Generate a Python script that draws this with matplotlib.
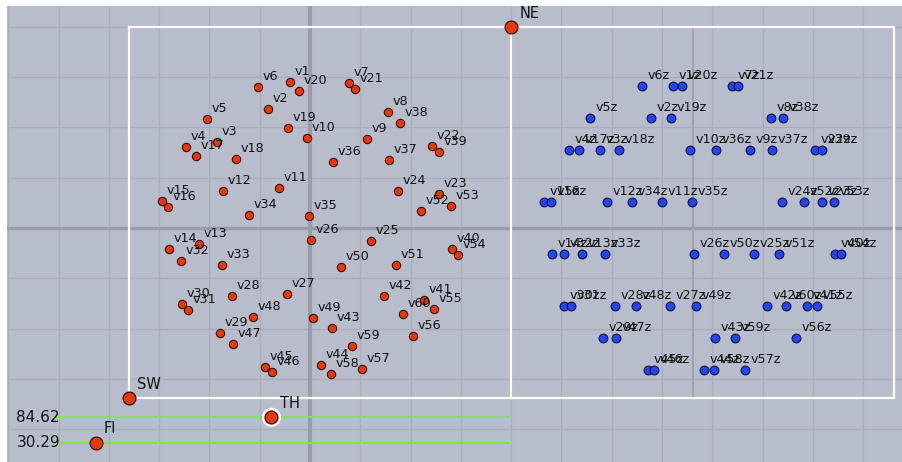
import numpy as np
import matplotlib
matplotlib.use("Agg")
import matplotlib.pyplot as plt

# ---------------- data (screen-like coordinates, y grows downward) ----------------
red_names = [f"v{i}" for i in range(1, 61)]
red_x = [290, 268, 217, 186, 207, 258, 349, 388, 367, 307,
         279, 223, 199, 169, 162, 168, 196, 236, 288, 299,
         355, 432, 439, 398, 371, 311, 287, 232, 220, 182,
         188, 181, 222, 249, 309, 333, 389, 400, 439, 452,
         424, 384, 332, 321, 265, 272, 233, 253, 313, 341,
         396, 421, 451, 458, 434, 413, 362, 331, 352, 403]
red_y = [82, 109, 142, 147, 119, 87, 83, 112, 139, 138,
         188, 191, 244, 249, 201, 207, 156, 159, 128, 91,
         89, 146, 194, 191, 241, 240, 294, 296, 333, 304,
         310, 261, 265, 215, 216, 162, 160, 123, 152, 249,
         300, 296, 328, 365, 367, 372, 344, 317, 318, 267,
         265, 211, 206, 255, 309, 336, 369, 374, 346, 314]

blue_names = [f"v{i}z" for i in range(1, 61)]
blue_x = [673, 651, 600, 569, 590, 642, 732, 771, 750, 690,
          662, 607, 582, 552, 544, 551, 579, 619, 671, 682,
          738, 815, 822, 782, 754, 694, 670, 615, 603, 564,
          571, 564, 605, 632, 692, 716, 772, 783, 822, 835,
          807, 767, 715, 704, 648, 654, 616, 636, 696, 724,
          779, 804, 834, 841, 817, 796, 745, 714, 735, 786]
blue_y = [86, 118, 150, 150, 118, 86, 86, 118, 150, 150,
          202, 202, 254, 254, 202, 202, 150, 150, 118, 86,
          86, 150, 202, 202, 254, 254, 306, 306, 338, 306,
          306, 254, 254, 202, 202, 150, 150, 118, 150, 254,
          306, 306, 338, 370, 370, 370, 338, 306, 306, 254,
          254, 202, 202, 254, 306, 338, 370, 370, 338, 306]

corner_names = ["SW", "NE"]
corner_x = [128.7, 511.5]
corner_y = [398, 27]

slider_names = ["TH", "FI"]
slider_x = [271.5, 96]
slider_y = [417.3, 442.7]
slider_values = ["84.62", "30.29"]

# ---------------- figure ----------------
W, H = 903, 462
fig = plt.figure(figsize=(W / 100, H / 100), dpi=100)
fig.patch.set_facecolor("white")
ax = fig.add_axes([7 / W, 0, (W - 7) / W, (H - 6) / H])
ax.set_xlim(7, W)
ax.set_ylim(H, 6)
ax.axis("off")
ax.add_patch(plt.Rectangle((7, 6), W - 7, H - 6, facecolor="#b8bdcc",
                           edgecolor="none", zorder=0))

# grid
ox, oy, step = 310, 228, 50.3
for gx in np.arange(ox - 6 * step, W, step):
    ax.plot([gx, gx], [6, H], color="#aaaebc", lw=1.0, zorder=1)
for gy in np.arange(oy - 4 * step, H, step):
    ax.plot([7, W], [gy, gy], color="#aaaebc", lw=1.0, zorder=1)
# main axes
ax.plot([ox, ox], [6, H], color="#9a9da9", lw=3.0, zorder=2)
ax.plot([7, W], [oy, oy], color="#9a9da9", lw=2.5, zorder=2)
# secondary axis line in right panel
ax.plot([692.7, 692.7], [27, 398], color="#a0a3ae", lw=1.5, zorder=2)

# white frames
x0, y0 = corner_x[0], corner_y[1]
x1, y1 = corner_x[1], corner_y[0]
ax.plot([x0, 894.5, 894.5, x0, x0], [y0, y0, y1, y1, y0], color="white", lw=1.6, zorder=3)
ax.plot([x1, x1], [y0, y1], color="white", lw=1.6, zorder=3)

# slider lines
for sy, val in zip(slider_y, slider_values):
    ax.plot([57, 511.5], [sy, sy], color="#7fe650", lw=1.4, zorder=3)
    ax.text(60, sy, val, ha="right", va="center", fontsize=11, color="#111111", zorder=6)

lab_kw = dict(textcoords="offset points", ha="left", va="baseline",
              fontsize=9.2, color="#111111", zorder=6)

# red points
ax.scatter(red_x, red_y, s=36, c="#e8390e", edgecolors="#3a0c00", linewidths=0.8, zorder=4)
for n, x, y in zip(red_names, red_x, red_y):
    ax.annotate(n, (x, y), xytext=(3.6, 5.0), **lab_kw)

# blue points
ax.scatter(blue_x, blue_y, s=40, c="#2346f0", edgecolors="#0c1040", linewidths=0.8, zorder=4)
for n, x, y in zip(blue_names, blue_x, blue_y):
    ax.annotate(n, (x, y), xytext=(3.8, 5.0), **lab_kw)

# corner points
ax.scatter(corner_x, corner_y, s=85, c="#e8390e", edgecolors="#3a0c00", linewidths=0.9, zorder=5)
for n, x, y in zip(corner_names, corner_x, corner_y):
    ax.annotate(n, (x, y), xytext=(5.8, 6.8), textcoords="offset points",
                ha="left", va="baseline", fontsize=10.5, color="#111111", zorder=6)

# slider points (TH highlighted with white ring)
ax.scatter(slider_x[:1], slider_y[:1], s=190, c="white", edgecolors="none", zorder=5)
ax.scatter(slider_x, slider_y, s=85, c="#e8390e", edgecolors="#3a0c00", linewidths=0.9, zorder=5)
for n, x, y in zip(slider_names, slider_x, slider_y):
    ax.annotate(n, (x, y), xytext=(5.8, 7.0), textcoords="offset points",
                ha="left", va="baseline", fontsize=10.5, color="#111111", zorder=6)

fig.savefig("out.png", dpi=100)
